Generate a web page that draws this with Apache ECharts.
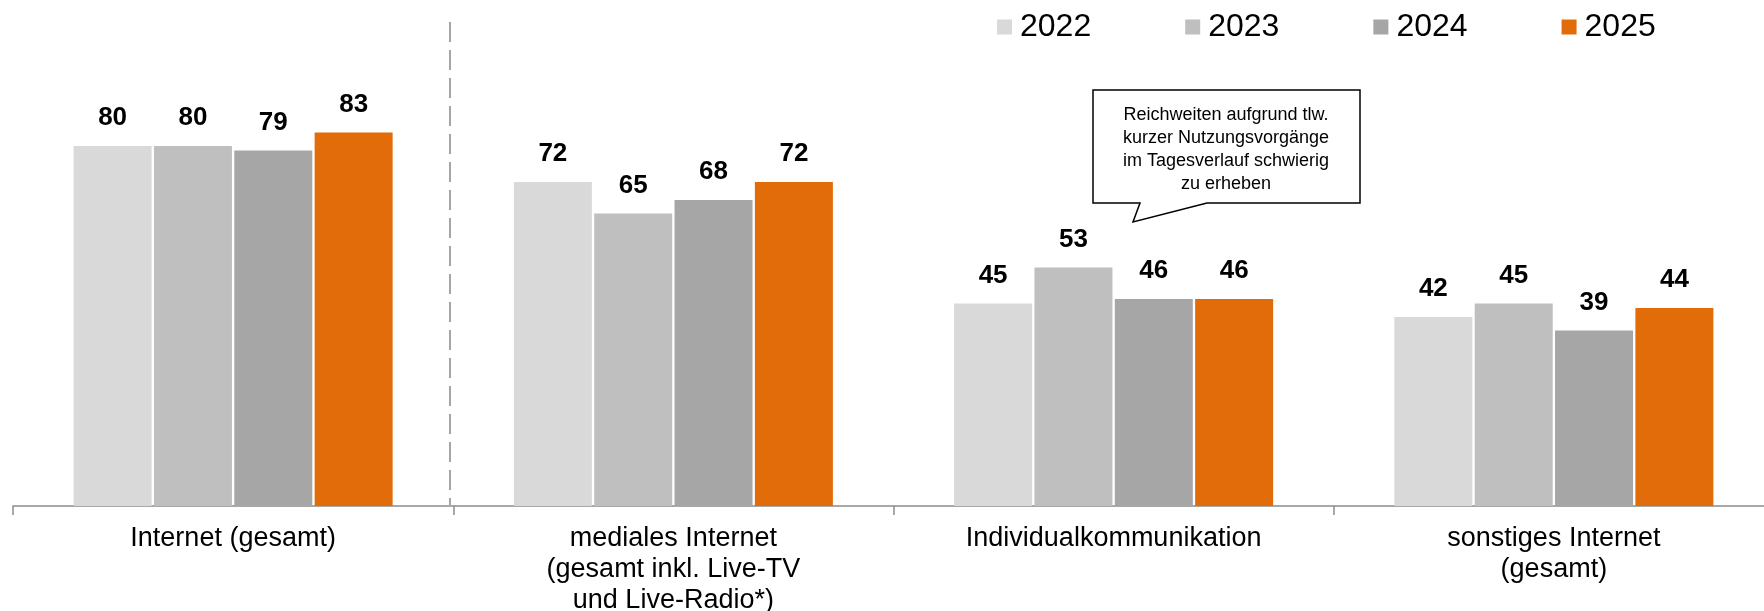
<!DOCTYPE html>
<html>
<head>
<meta charset="utf-8">
<script src="https://cdn.jsdelivr.net/npm/echarts@6/dist/echarts.min.js"></script>
<style>
  html, body { margin: 0; padding: 0; background: #fff; }
  #main { width: 1764px; height: 611px; }
</style>
</head>
<body>
<div id="main"></div>
<script>
// Kategorien
var categories = [
  'Internet (gesamt)',
  'mediales Internet\n(gesamt inkl. Live-TV\nund Live-Radio*)',
  'Individualkommunikation',
  'sonstiges Internet\n(gesamt)'
];
// Jahre / Reihen
var years = ['2022', '2023', '2024', '2025'];
var values2022 = [80, 72, 45, 42];
var values2023 = [80, 65, 53, 45];
var values2024 = [79, 68, 46, 39];
var values2025 = [83, 72, 46, 44];
var colors = ['#d9d9d9', '#bfbfbf', '#a6a6a6', '#e36c0a'];
var noteText = 'Reichweiten aufgrund tlw.\nkurzer Nutzungsvorgänge\nim Tagesverlauf schwierig\nzu erheben';

var font = '"Liberation Sans", Arial, Helvetica, sans-serif';
var allValues = [values2022, values2023, values2024, values2025];

var series = [];
for (var i = 0; i < years.length; i++) {
  series.push({
    name: years[i],
    type: 'bar',
    data: allValues[i],
    barWidth: 78,
    barGap: '3%',
    itemStyle: { color: colors[i] },
    label: {
      show: true,
      position: 'top',
      distance: 15,
      color: '#000',
      fontSize: 26,
      fontWeight: 'bold',
      fontFamily: font
    }
  });
}

var chart = echarts.init(document.getElementById('main'), null, { renderer: 'canvas' });
chart.setOption({
  animation: false,
  backgroundColor: '#fff',
  legend: {
    data: years,
    left: 992,
    top: 6,
    itemWidth: 15,
    itemHeight: 15,
    itemGap: 94,
    icon: 'rect',
    textStyle: {
      fontSize: 32,
      fontFamily: font,
      color: '#000',
      padding: [0, 0, 0, 3]
    }
  },
  grid: {
    left: 13,
    width: 1761,
    top: 56,
    bottom: 105,
    containLabel: false,
    outerBoundsMode: 'none'
  },
  xAxis: {
    type: 'category',
    data: categories,
    axisLine: { lineStyle: { color: '#8c8c8c', width: 1.5 } },
    axisTick: { show: true, length: 9, lineStyle: { color: '#8c8c8c', width: 1.5 } },
    axisLabel: {
      interval: 0,
      margin: 17,
      fontSize: 27,
      lineHeight: 31,
      color: '#000',
      fontFamily: font
    }
  },
  yAxis: {
    type: 'value',
    min: 0,
    max: 100,
    show: false,
    splitLine: { show: false }
  },
  graphic: [
    // gestrichelte Trennlinie
    {
      type: 'line',
      shape: { x1: 450, y1: 22, x2: 450, y2: 505 },
      style: { stroke: '#a6a6a6', lineWidth: 2, lineDash: [20, 8] }
    },
    // Sprechblase
    {
      type: 'polygon',
      shape: {
        points: [[1093, 90], [1360, 90], [1360, 203], [1207, 203], [1133, 222], [1140, 203], [1093, 203]]
      },
      style: { fill: '#fff', stroke: '#000', lineWidth: 1.5 }
    },
    {
      type: 'text',
      x: 1226,
      y: 150,
      style: {
        text: noteText,
        fill: '#000',
        font: '18px ' + font,
        lineHeight: 23,
        align: 'center',
        verticalAlign: 'middle'
      }
    }
  ],
  series: series
});
</script>
</body>
</html>
